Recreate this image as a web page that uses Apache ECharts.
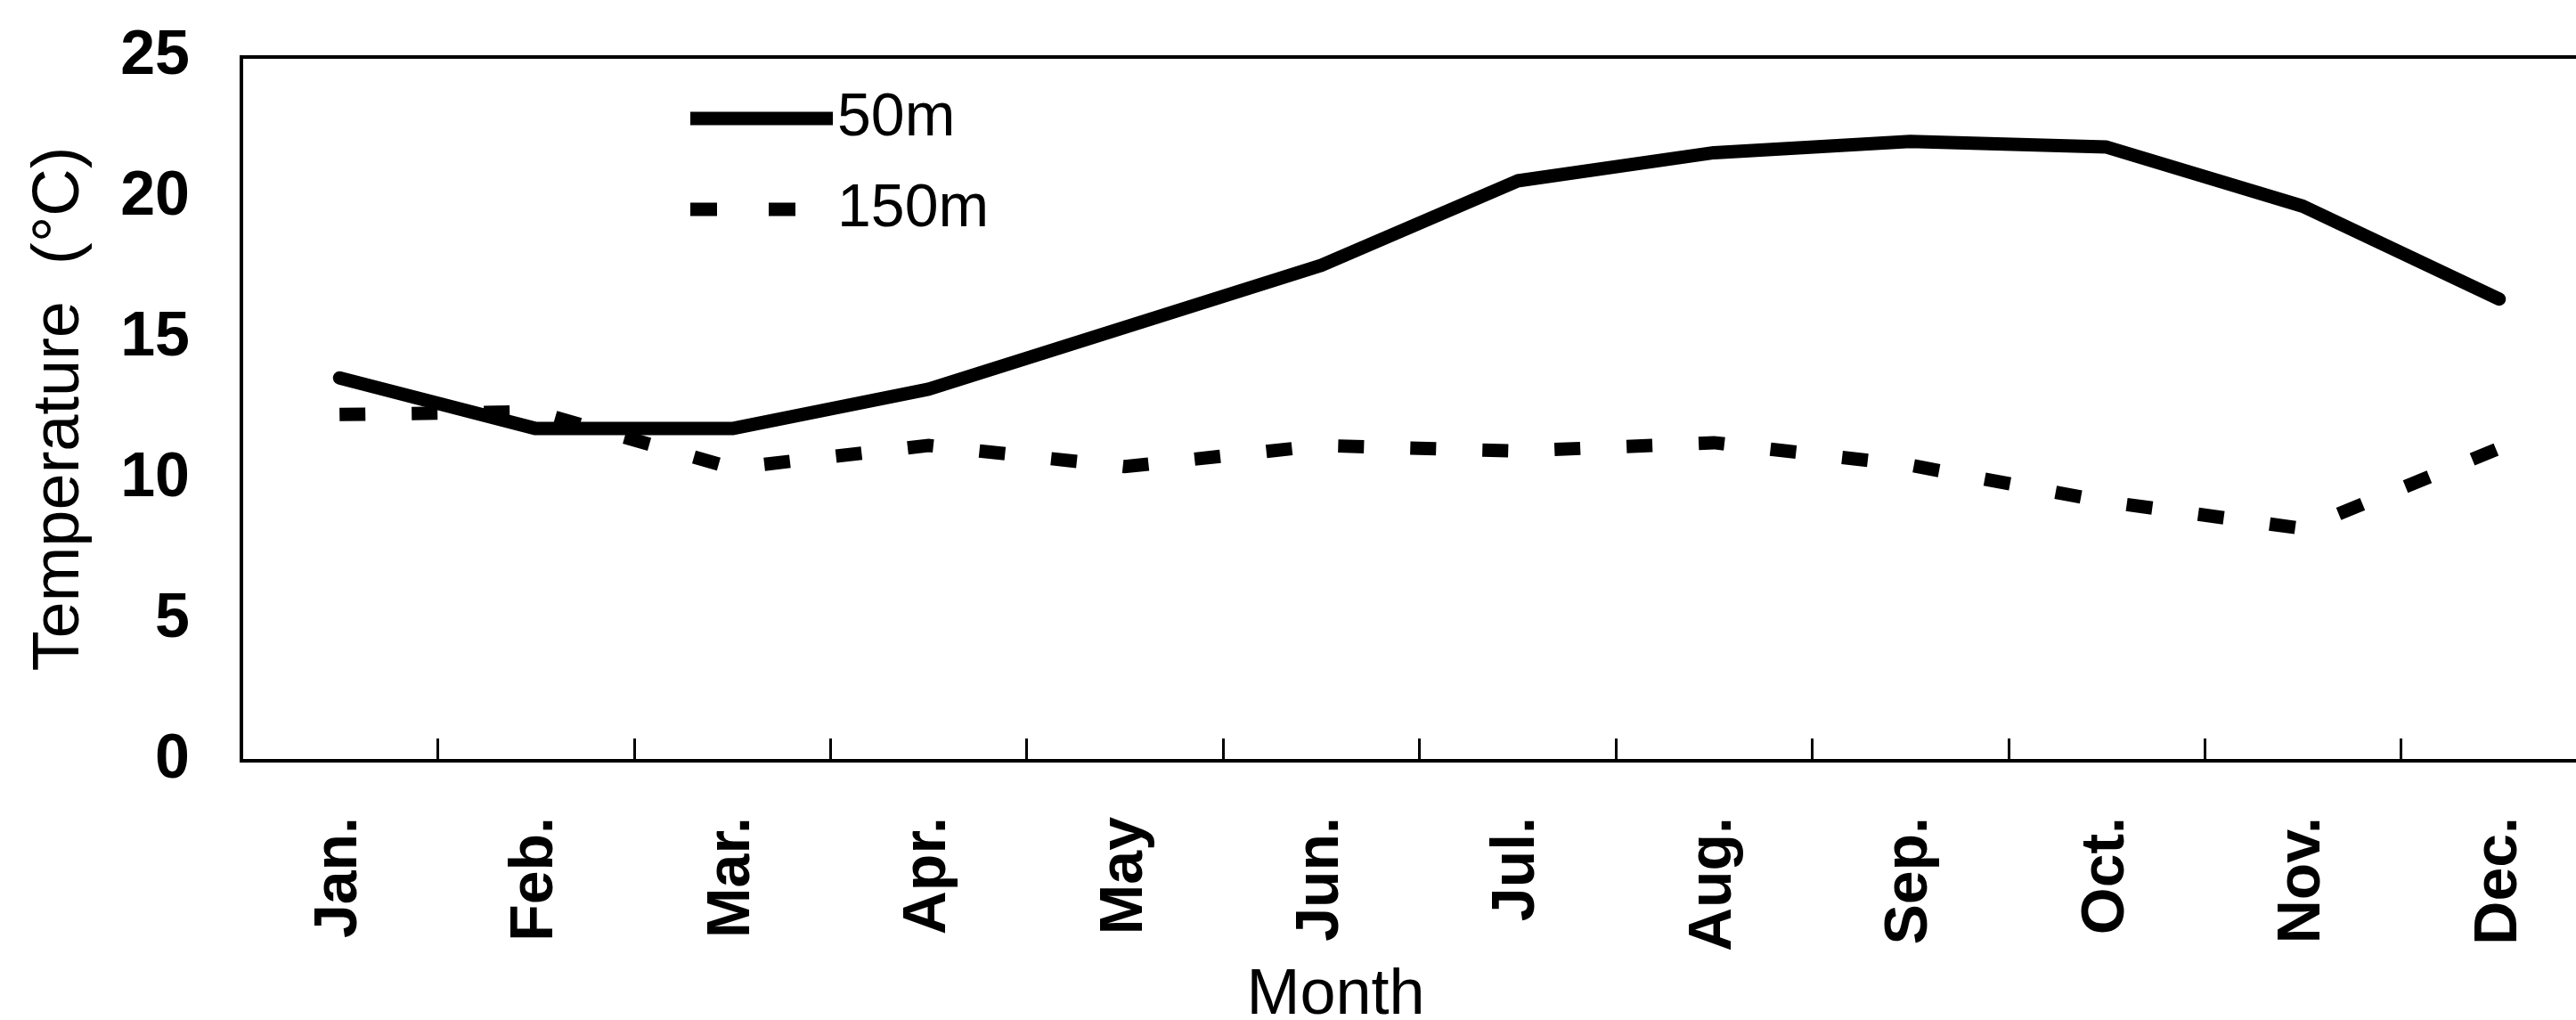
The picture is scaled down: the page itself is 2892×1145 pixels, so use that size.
<!DOCTYPE html>
<html>
<head>
<meta charset="utf-8">
<script src="https://cdn.jsdelivr.net/npm/echarts@6/dist/echarts.min.js"></script>
<style>
  html, body { margin: 0; padding: 0; background: #fff; }
  #chart { width: 2892px; height: 1145px; }
</style>
</head>
<body>
<div id="chart"></div>
<script>
// ---- data ----
const months = ['Jan.', 'Feb.', 'Mar.', 'Apr.', 'May', 'Jun.', 'Jul.', 'Aug.', 'Sep.', 'Oct.', 'Nov.', 'Dec.'];
const temp50m  = [13.6, 11.8, 11.8, 13.2, 15.4, 17.6, 20.6, 21.6, 22.0, 21.8, 19.7, 16.4];
const temp150m = [12.3, 12.4, 10.4, 11.2, 10.45, 11.2, 11.0, 11.3, 10.5, 9.2, 8.25, 11.1];
const seriesNames = ['50m', '150m'];
const yTicks = { min: 0, max: 25, interval: 5 };

const FONT = 'Liberation Sans, Arial, sans-serif';
const chart = echarts.init(document.getElementById('chart'), null, { renderer: 'canvas' });

// legend icons: a thick solid stroke and two short dashes (bounding box 160 x 15)
const iconSolid = 'path://M0,0H160V15H0Z';
const iconDashed = 'path://M0,0H30V15H0Z M88,0H118V15H88Z M159.9,7H160V7.1H159.9Z';

chart.setOption({
  animation: false,
  backgroundColor: '#ffffff',
  grid: {
    left: 271, top: 64, bottom: 291, right: -24,
    outerBoundsMode: 'none',
    containLabel: false,
    show: true, borderColor: '#000', borderWidth: 4, backgroundColor: 'transparent'
  },
  legend: {
    data: [
      { name: seriesNames[0], icon: iconSolid },
      { name: seriesNames[1], icon: iconDashed }
    ],
    orient: 'vertical',
    left: 770, top: 94,
    itemWidth: 160, itemHeight: 15, itemGap: 34,
    selectedMode: false,
    itemStyle: { color: '#000', borderWidth: 0 },
    textStyle: { fontFamily: FONT, fontSize: 68, color: '#000' }
  },
  xAxis: {
    type: 'category',
    data: months,
    boundaryGap: true,
    name: 'Month',
    nameLocation: 'middle',
    nameGap: 228,
    nameTextStyle: { fontFamily: FONT, fontSize: 72, color: '#000', padding: [0, 188, 0, 0] },
    axisLine: { show: true, lineStyle: { color: '#000', width: 4 } },
    axisTick: { show: true, inside: true, length: 25, lineStyle: { color: '#000', width: 3 } },
    axisLabel: { rotate: 90, margin: 63, fontFamily: FONT, fontSize: 68, fontWeight: 'bold', color: '#000' },
    splitLine: { show: false }
  },
  yAxis: {
    type: 'value',
    min: yTicks.min, max: yTicks.max, interval: yTicks.interval,
    name: 'Temperature  (°C)',
    nameLocation: 'middle',
    nameRotate: 90,
    nameGap: 166,
    nameTextStyle: { fontFamily: FONT, fontSize: 74, color: '#000' },
    axisLine: { show: true, lineStyle: { color: '#000', width: 4 } },
    axisTick: { show: false },
    axisLabel: { margin: 58, fontFamily: FONT, fontSize: 70, fontWeight: 'bold', color: '#000' },
    splitLine: { show: false }
  },
  series: [
    {
      name: seriesNames[0],
      type: 'line',
      data: temp50m,
      symbol: 'none',
      smooth: false,
      lineStyle: { color: '#000', width: 15, type: 'solid', cap: 'round', join: 'round' },
      itemStyle: { color: '#000' }
    },
    {
      name: seriesNames[1],
      type: 'line',
      data: temp150m,
      symbol: 'none',
      smooth: false,
      lineStyle: { color: '#000', width: 15, type: [29, 52], cap: 'butt', join: 'miter' },
      itemStyle: { color: '#000' }
    }
  ]
});
</script>
</body>
</html>
